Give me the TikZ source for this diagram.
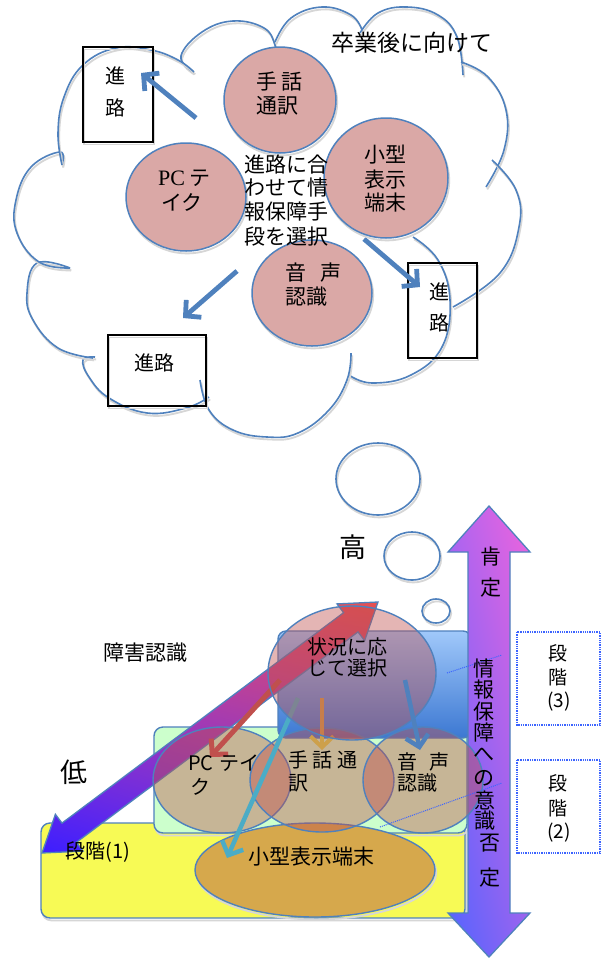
\documentclass[tikz,border=0pt]{standalone}
\usepackage{fontspec}
\setmainfont{Noto Sans CJK JP}
\newfontfamily\pcserif{Liberation Serif}
\usetikzlibrary{arrows.meta,shadings}
\definecolor{obl}{RGB}{79,129,189}
\definecolor{cpink}{RGB}{218,168,166}
\definecolor{ared}{RGB}{192,80,77}
\definecolor{acyan}{RGB}{75,172,198}
\definecolor{aolive}{RGB}{205,160,75}
\definecolor{ygl}{RGB}{247,250,85}
\definecolor{grn}{RGB}{204,255,204}
\definecolor{orng}{RGB}{214,168,76}
\definecolor{dotb}{RGB}{60,100,255}
\definecolor{bltop}{RGB}{160,200,250}
\definecolor{blbot}{RGB}{60,120,210}
\definecolor{dgll}{RGB}{60,30,255}
\definecolor{dgur}{RGB}{230,80,80}
\definecolor{dgul}{RGB}{230,70,160}
\definecolor{dglr}{RGB}{120,50,230}
\definecolor{vall}{RGB}{80,100,255}
\definecolor{valr}{RGB}{150,100,240}
\definecolor{vaul}{RGB}{175,100,240}
\definecolor{vaur}{RGB}{240,100,220}
\begin{document}
\begin{tikzpicture}[x=1pt,y=-1pt,
  shd/.style={preaction={draw=black!16,line width=1.8pt,transform canvas={shift={(1.2,2.4)}}}},
  cl/.style={draw=obl,line width=1.6pt,shd},
  circ/.style={draw=obl,line width=1.5pt,fill=cpink,shd},
  pe/.style={draw=obl,line width=1.4pt,fill=ared,fill opacity=0.42},
  boxk/.style={draw=black,line width=1.8pt,shd},
  barr/.style={-{Straight Barb[length=11pt,width=23pt]}},
  tw/.style={inner sep=0pt,anchor=west,font=\fontsize{21}{24}\selectfont},
  tc/.style={inner sep=0pt,anchor=center,font=\fontsize{21}{24}\selectfont},
  dbox/.style={draw=dotb,densely dotted,line width=1.3pt},
  dline/.style={draw=dotb,densely dotted,line width=1pt}]
\useasboundingbox (0,0) rectangle (604,959);
\fill[white] (0,0) rectangle (604,959);

% ---------------- top cloud ----------------
\draw[cl] plot[smooth,tension=0.7] coordinates {(193,72) (181,56) (202,32) (233,21) (264,28) (275,45) (274,53)};
\draw[cl] plot[smooth,tension=0.7] coordinates {(275,42) (291,18) (322,7) (351,15) (362,30)};
\draw[cl] plot[smooth,tension=0.7] coordinates {(360,33) (378,13) (407,7) (438,15) (457,37) (463,75)};
\draw[cl] plot[smooth,tension=0.7] coordinates {(461,62) (488,77) (506,110) (504,150) (486,187)};
\draw[cl] plot[smooth,tension=0.7] coordinates {(492,160) (516,190) (519,227) (500,273) (453,307)};
\draw[cl] plot[smooth,tension=0.7] coordinates {(413,237) (438,260) (450,300) (442,347) (411,375) (372,383) (349,375)};
\draw[cl] plot[smooth,tension=0.7] coordinates {(351,353) (347,380) (329,410) (298,433) (267,437) (233,430) (209,410) (200,380)};
\draw[cl] plot[smooth,tension=0.7] coordinates {(209,397) (186,408) (147,413) (109,398) (89,377) (83,360) (95,357)};
\draw[cl] plot[smooth,tension=0.7] coordinates {(93,358) (58,348) (33,320) (27,293) (37,263) (70,268)};
\draw[cl] plot[smooth,tension=0.7] coordinates {(70,268) (39,262) (17,233) (16,200) (31,167) (60,152) (62,165)};
\draw[cl] plot[smooth,tension=0.7] coordinates {(62,165) (58,133) (64,97) (83,65) (116,48) (151,50) (178,60) (194,72)};

% boxes
\draw[boxk] (83,47) rectangle (153,142);
\draw[boxk] (408,263) rectangle (477,358);
\draw[boxk] (108,335) rectangle (206,406);

% arrows top
\coordinate (a1s) at (196,118); \coordinate (a1e) at (141,73);
\coordinate (a2s) at (364,239); \coordinate (a2e) at (420,287);
\coordinate (a3s) at (237,271); \coordinate (a3e) at (183,318);
\draw[obl,line width=4.8pt,barr] (a1s) -- (a1e);
\draw[obl,line width=4.8pt,barr] (a2s) -- (a2e);
\draw[obl,line width=4.8pt,barr] (a3s) -- (a3e);

% circles top
\draw[circ] (280,100) ellipse [x radius=56pt, y radius=53pt];
\draw[circ] (186,197) ellipse [x radius=60pt, y radius=54pt];
\draw[circ] (386,178) ellipse [x radius=62pt, y radius=60pt];
\draw[circ] (312,293) ellipse [x radius=60pt, y radius=53pt];

% texts top
\node[tc,font=\fontsize{23}{26}\selectfont] (sotsu) at (412,43) {卒業後に向けて};
\node[tc,font=\fontsize{20}{24}\selectfont] (b1a) at (115,76) {進};
\node[tc,font=\fontsize{20}{24}\selectfont] (b1b) at (115,108) {路};
\node[tc,font=\fontsize{20}{24}\selectfont] (b2a) at (439,292) {進};
\node[tc,font=\fontsize{20}{24}\selectfont] (b2b) at (439,323) {路};
\node[tc,font=\fontsize{20}{24}\selectfont] (b3) at (154,363) {進路};
\node[tw] (sw1) at (256,82) {手 話};
\node[tw] (sw2) at (256,106) {通訳};
\node[tw] (pc1) at (158,178) {{\pcserif\fontsize{22}{24}\selectfont PC}\hspace{4pt}テ};
\node[tw] (pc2) at (161,202) {イク};
\node[tw] (kg1) at (364,155) {小型};
\node[tw] (kg2) at (364,180) {表示};
\node[tw] (kg3) at (364,203) {端末};
\node[tw] (on1) at (285,273) {音\hspace{14pt}声};
\node[tw] (on2) at (285,297) {認識};
\node[tw] (ce1) at (244,165) {進路に合};
\node[tw] (ce2) at (244,188) {わせて情};
\node[tw] (ce3) at (244,212) {報保障手};
\node[tw] (ce4) at (244,237) {段を選択};

% ---------------- bottom ----------------
% bubbles
\draw[cl] (378,479) ellipse [x radius=42pt, y radius=36pt];
\draw[cl] (412,556) ellipse [x radius=28pt, y radius=24pt];
\draw[cl] (436,611) ellipse [x radius=14pt, y radius=12pt];

% boxes
\draw[shd,draw=obl,line width=1.4pt,fill=ygl,rounded corners=9pt] (41,823) rectangle (465,918);
\draw[shd,draw=obl,line width=1.4pt,fill=grn,rounded corners=9pt] (154,727) rectangle (467,833);
\draw[draw=obl,line width=1.4pt,top color=bltop,bottom color=blbot,rounded corners=8pt] (278,631) rectangle (471,738);

% vertical double arrow
\draw[draw=obl,line width=1.3pt,upper left=vaul,upper right=vaur,lower left=vall,lower right=valr]
  (489,506) -- (530,552) -- (510,552) -- (510,913) -- (530,913) -- (489,957)
  -- (448,913) -- (468,913) -- (468,552) -- (448,552) -- cycle;

% diagonal double arrow
\draw[draw=obl,line width=1.3pt,upper left=dgul,upper right=dgur,lower left=dgll,lower right=dglr]
  (42,853) -- (83.0,851.1) -- (76.4,842.3) -- (358.0,631.9) -- (364.6,640.7) -- (378,602)
  -- (337.0,603.9) -- (343.6,612.7) -- (62.0,823.1) -- (55.4,814.3) -- cycle;

% small display ellipse
\draw[shd,draw=obl,line width=1.4pt,fill=orng] (315,870) ellipse [x radius=120pt, y radius=47pt];

% lower ellipses
\draw[pe] (222,780) ellipse [x radius=69pt, y radius=53pt];
\draw[pe] (322,780) ellipse [x radius=72pt, y radius=52pt];
\draw[pe] (423,780) ellipse [x radius=60pt, y radius=53pt];

% inner arrows
\coordinate (r1) at (280,680); \coordinate (r2) at (210,757);
\coordinate (o1) at (322,698); \coordinate (o2) at (322,750);
\coordinate (c1) at (298,698); \coordinate (c2) at (227,858);
\coordinate (u1) at (405,680); \coordinate (u2) at (420,750);
\draw[ared,line width=5pt,barr] (r1) -- (r2);
\draw[aolive,line width=4pt,barr] (o1) -- (o2);
\draw[acyan,line width=4.5pt,barr] (c1) -- (c2);

% situation ellipse
\draw[pe] (352,673) ellipse [x radius=84pt, y radius=67pt];
\draw[obl,line width=4.5pt,barr] (u1) -- (u2);

% dotted boxes and lines
\draw[dbox] (517,632) rectangle (600,725);
\draw[dbox] (517,760) rectangle (600,853);
\coordinate (d1a) at (447,673); \coordinate (d1b) at (502,655);
\coordinate (d2a) at (380,827); \coordinate (d2b) at (502,783);
\draw[dline] (d1a) -- (d1b);
\draw[dline] (d2a) -- (d2b);

% texts bottom
\node[tc,font=\fontsize{27}{30}\selectfont] (taka) at (353,547) {高};
\node[tc,font=\fontsize{27}{30}\selectfont] (hiku) at (74,772) {低};
\node[tc] (shogai) at (145,653) {障害認識};
\node[tc,font=\fontsize{20}{21}\selectfont] (jk1) at (347,647) {状況に応};
\node[tc,font=\fontsize{20}{21}\selectfont] (jk2) at (347,668) {じて選択};
\node[tw,font=\fontsize{20}{24}\selectfont] (lpc1) at (188,763) {PC\hspace{6pt}テイ};
\node[tw,font=\fontsize{20}{24}\selectfont] (lpc2) at (190,787) {ク};
\node[tw,font=\fontsize{20}{24}\selectfont] (lsw1) at (288,760) {手 話 通};
\node[tw,font=\fontsize{20}{24}\selectfont] (lsw2) at (288,783) {訳};
\node[tw,font=\fontsize{20}{24}\selectfont] (lon1) at (397,762) {音\hspace{12pt}声};
\node[tw,font=\fontsize{20}{24}\selectfont] (lon2) at (397,783) {認識};
\node[tc] (kogata) at (311,857) {小型表示端末};
\node[tc,font=\fontsize{20}{24}\selectfont] (dan1) at (98,852) {段階(1)};
\node[tc] (ko1) at (491,557) {肯};
\node[tc] (ko2) at (491,588) {定};
\node[tc] (v1) at (484,668) {情};
\node[tc] (v2) at (484,690) {報};
\node[tc] (v3) at (484,712) {保};
\node[tc] (v4) at (484,733) {障};
\node[tc] (v5) at (484,755) {へ};
\node[tc] (v6) at (484,778) {の};
\node[tc] (v7) at (485,800) {意};
\node[tc] (v8) at (485,821) {識};
\node[tc] (v9) at (490,843) {否};
\node[tc] (v10) at (490,878) {定};
\node[tc,font=\fontsize{19}{22}\selectfont] (s3a) at (558,653) {段};
\node[tc,font=\fontsize{19}{22}\selectfont] (s3b) at (558,677) {階};
\node[tc,font=\fontsize{19}{22}\selectfont] (s3c) at (559,702) {(3)};
\node[tc,font=\fontsize{19}{22}\selectfont] (s2a) at (558,783) {段};
\node[tc,font=\fontsize{19}{22}\selectfont] (s2b) at (558,808) {階};
\node[tc,font=\fontsize{19}{22}\selectfont] (s2c) at (559,833) {(2)};
\end{tikzpicture}
\end{document}
